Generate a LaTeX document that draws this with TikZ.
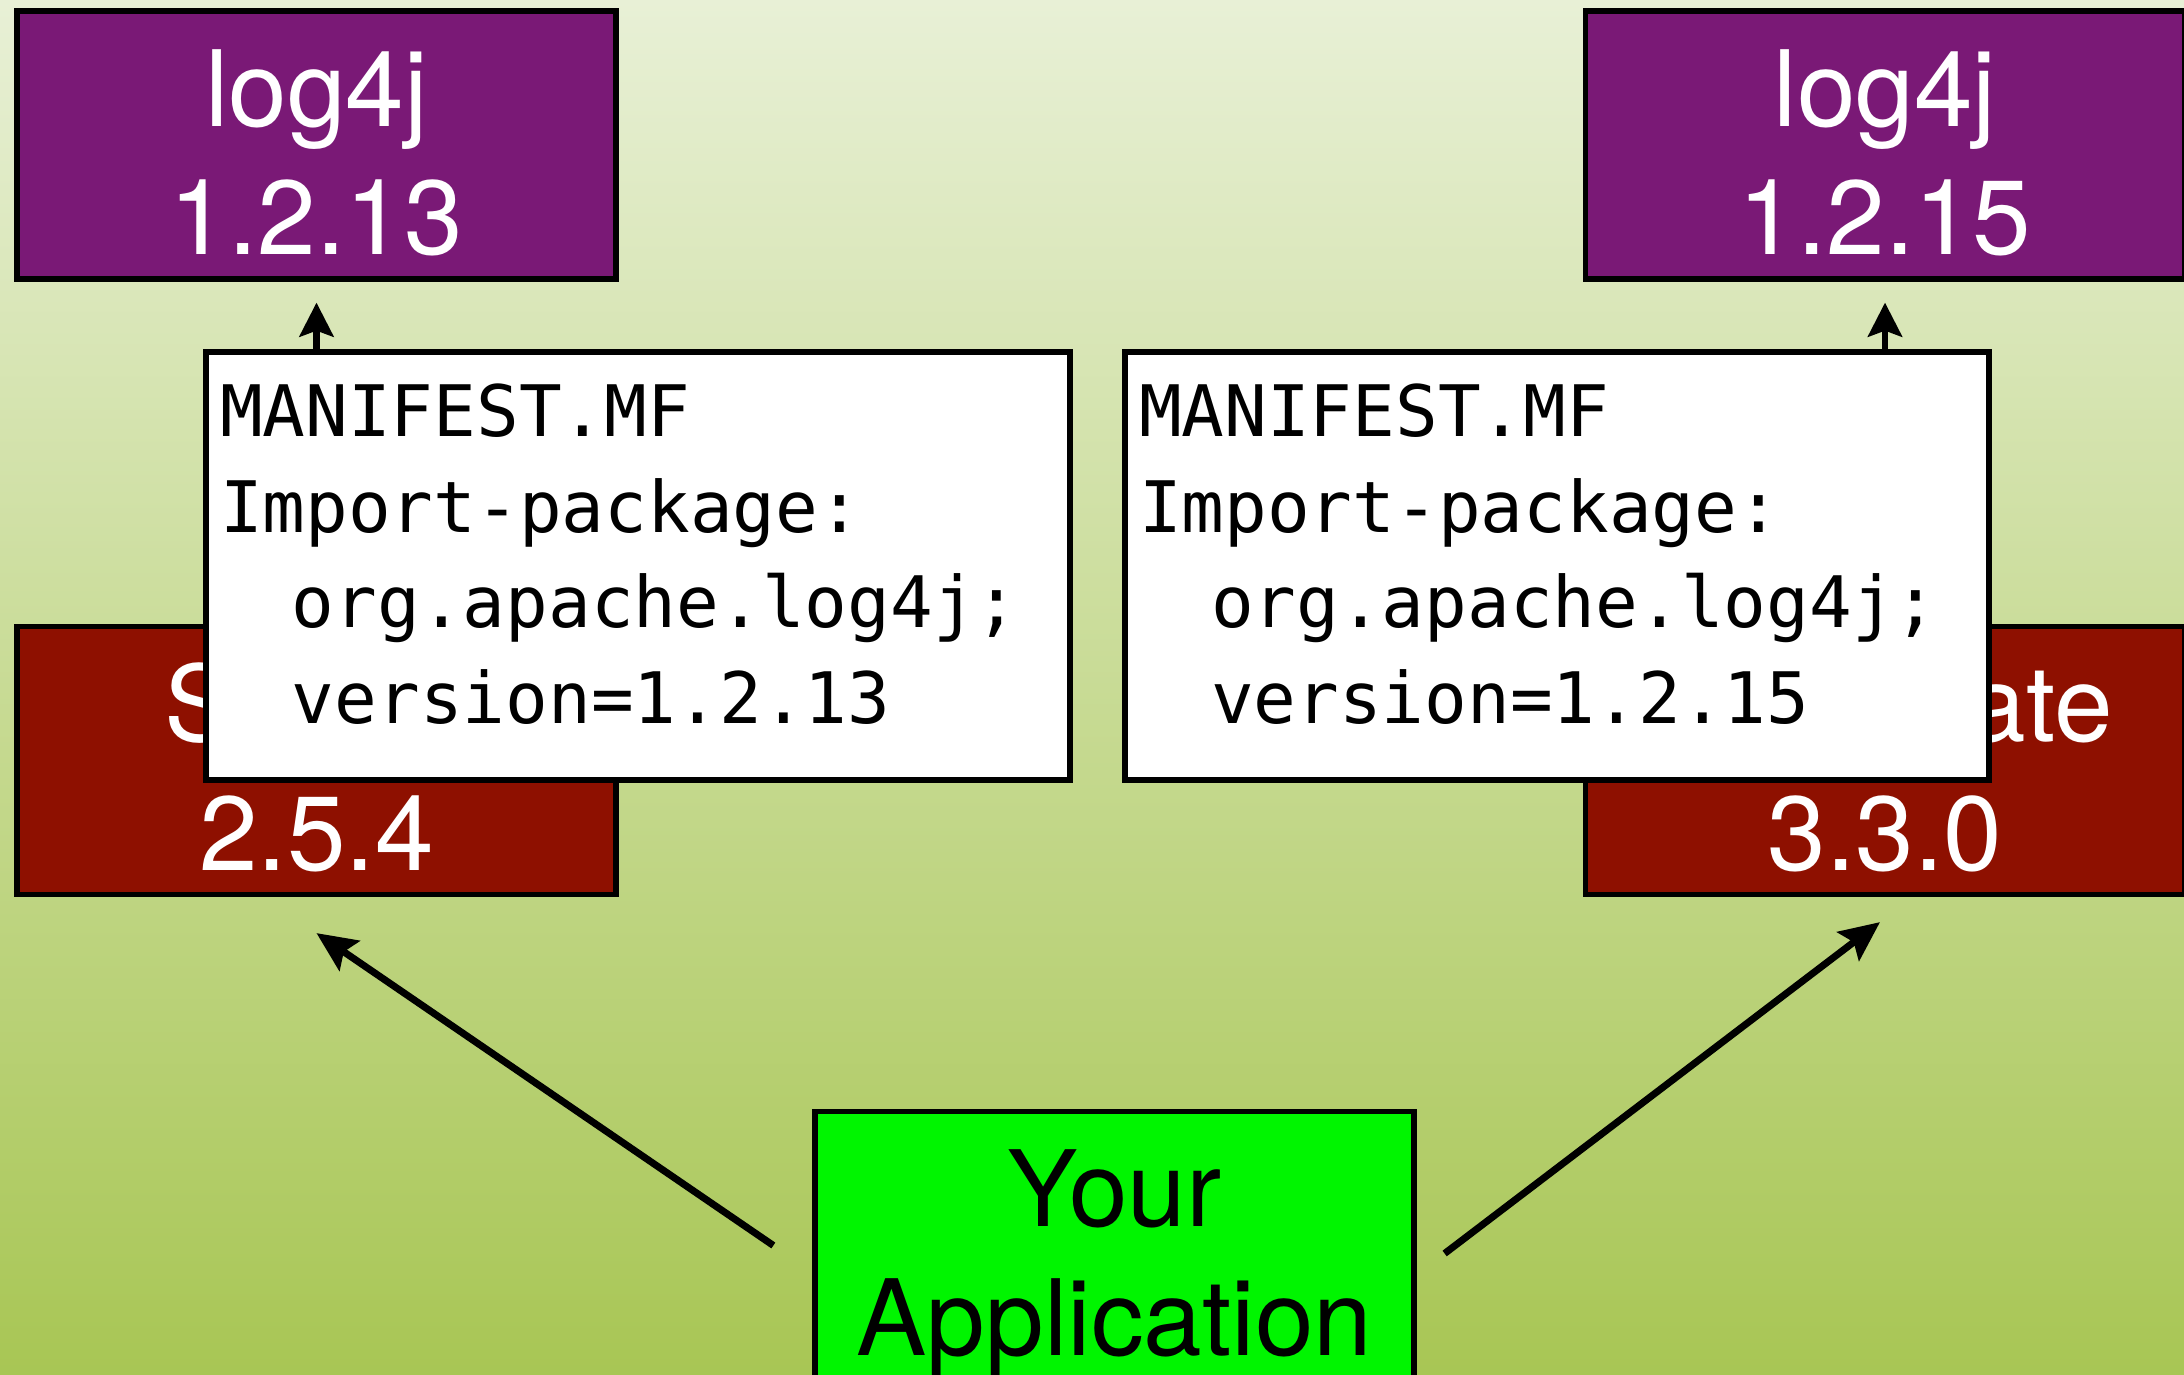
\documentclass[tikz,border=0pt]{standalone}
\usepackage{fontspec}
\setsansfont{TeX Gyre Heros}
\setmonofont{DejaVu Sans Mono}
\usepackage{tikz}
\usetikzlibrary{arrows.meta}

\definecolor{bgtop}{RGB}{232,240,214}
\definecolor{bgbot}{RGB}{168,198,84}
\definecolor{libpurple}{RGB}{122,25,118}
\definecolor{fwred}{RGB}{142,16,0}
\definecolor{appgreen}{RGB}{0,245,0}

\begin{document}
\begin{tikzpicture}
	[node distance={15.685cm}, line width=1.5pt,
	 box/.style = {draw, rectangle, minimum width=5.99cm, minimum height=2.68cm, inner sep=0pt, align=center, text height=2.2cm, text depth=0pt, font=\sffamily\fontsize{30}{36.7}\selectfont},
	 lib/.style = {box, fill=libpurple, text=white},
	 fw/.style = {box, fill=fwred, text=white},
	 app/.style = {box, fill=appgreen, text=black},
	 mf/.style = {draw, rectangle, fill=white, minimum width=8.64cm, minimum height=4.28cm},
	 mftext/.style = {anchor=north west, inner sep=0pt, align=left, font=\ttfamily\fontsize{20.2}{27.2}\selectfont},
	 dep/.style = {-{Stealth[length=3.4mm, width=3.4mm, inset=0.6mm]}, line width=1.9pt},
	 uses/.style = {-{Stealth[length=4mm, width=3.6mm, inset=0.7mm]}, line width=2pt}]
	\fill[top color=bgtop, bottom color=bgbot] (0,0) rectangle (21.84,-13.75);
	\useasboundingbox (0,0) rectangle (21.84,-13.75);
	\node[lib] (l1) at (3.165,-1.45) {log4j\\1.2.13};
	\node[lib] (l2) [right of=l1] {log4j\\1.2.15};
	\node[fw] (s) [below of=l1, node distance=6.155cm] {Spring\\2.5.4};
	\node[fw] (h) [below of=l2, node distance=6.155cm] {Hibernate\\3.3.0};
	\node[mf] (m1) at (6.38,-5.66) {};
	\node[mf] (m2) [right of=m1, node distance=9.19cm] {};
	\node[mftext] (t1) at ([xshift=0.14cm, yshift=-0.32cm]m1.north west) {MANIFEST.MF\\Import-package:\\\hspace*{0.72cm}org.apache.log4j;\\\hspace*{0.72cm}version=1.2.13};
	\node[mftext] (t2) at ([xshift=0.14cm, yshift=-0.32cm]m2.north west) {MANIFEST.MF\\Import-package:\\\hspace*{0.72cm}org.apache.log4j;\\\hspace*{0.72cm}version=1.2.15};
	\node[app] (app) at (11.145,-12.455) {Your\\Application};
	\draw[dep, shorten >=0.21cm] (m1.north -| l1) -- (l1.south);
	\draw[dep, shorten >=0.21cm] (m2.north -| l2) -- (l2.south);
	\draw[uses] ([xshift=-0.39cm]app.west) -- ([yshift=-0.36cm]s.south);
	\draw[uses] ([xshift=0.28cm, yshift=-0.08cm]app.east) -- ([xshift=-0.05cm, yshift=-0.25cm]h.south);
\end{tikzpicture}
\end{document}
